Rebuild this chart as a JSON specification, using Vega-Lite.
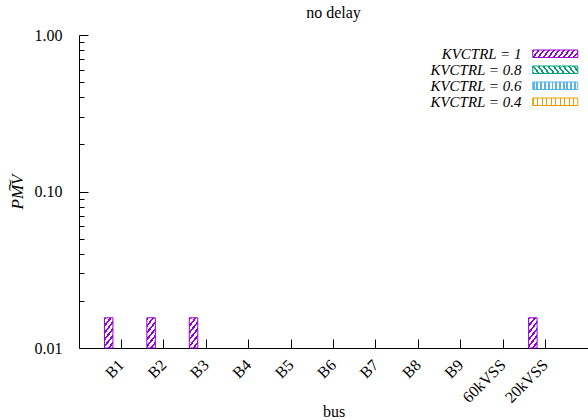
{
  "$schema": "https://vega.github.io/schema/vega-lite/v6.json",
  "width": 509,
  "height": 313,
  "autosize": "none",
  "padding": {"left": 79, "top": 35, "right": 0, "bottom": 72},
  "background": "white",
  "config": {
    "font": "Liberation Serif",
    "view": {"stroke": null},
    "axis": {"domainColor": "black", "tickColor": "black", "labelColor": "black", "titleColor": "black", "grid": false, "labelFont": "Liberation Serif", "titleFont": "Liberation Serif", "titleFontWeight": "normal"}
  },
  "title": {"text": "no delay", "fontSize": 16, "fontWeight": "normal", "font": "Liberation Serif", "color": "black", "offset": 6},
  "params": [
    {"name": "sP", "expr": "[{offset:0,color:'#9400d3'},{offset:0.04,color:'#9400d3'},{offset:0.04,color:'#fff'},{offset:0.1,color:'#fff'},{offset:0.1,color:'#9400d3'},{offset:0.14,color:'#9400d3'},{offset:0.14,color:'#fff'},{offset:0.2,color:'#fff'},{offset:0.2,color:'#9400d3'},{offset:0.24,color:'#9400d3'},{offset:0.24,color:'#fff'},{offset:0.3,color:'#fff'},{offset:0.3,color:'#9400d3'},{offset:0.34,color:'#9400d3'},{offset:0.34,color:'#fff'},{offset:0.4,color:'#fff'},{offset:0.4,color:'#9400d3'},{offset:0.44,color:'#9400d3'},{offset:0.44,color:'#fff'},{offset:0.5,color:'#fff'},{offset:0.5,color:'#9400d3'},{offset:0.54,color:'#9400d3'},{offset:0.54,color:'#fff'},{offset:0.6,color:'#fff'},{offset:0.6,color:'#9400d3'},{offset:0.64,color:'#9400d3'},{offset:0.64,color:'#fff'},{offset:0.7,color:'#fff'},{offset:0.7,color:'#9400d3'},{offset:0.74,color:'#9400d3'},{offset:0.74,color:'#fff'},{offset:0.8,color:'#fff'},{offset:0.8,color:'#9400d3'},{offset:0.84,color:'#9400d3'},{offset:0.84,color:'#fff'},{offset:0.9,color:'#fff'},{offset:0.9,color:'#9400d3'},{offset:0.94,color:'#9400d3'},{offset:0.94,color:'#fff'},{offset:1,color:'#fff'}]"},
    {"name": "sG", "expr": "[{offset:0,color:'#009e73'},{offset:0.04,color:'#009e73'},{offset:0.04,color:'#fff'},{offset:0.1,color:'#fff'},{offset:0.1,color:'#009e73'},{offset:0.14,color:'#009e73'},{offset:0.14,color:'#fff'},{offset:0.2,color:'#fff'},{offset:0.2,color:'#009e73'},{offset:0.24,color:'#009e73'},{offset:0.24,color:'#fff'},{offset:0.3,color:'#fff'},{offset:0.3,color:'#009e73'},{offset:0.34,color:'#009e73'},{offset:0.34,color:'#fff'},{offset:0.4,color:'#fff'},{offset:0.4,color:'#009e73'},{offset:0.44,color:'#009e73'},{offset:0.44,color:'#fff'},{offset:0.5,color:'#fff'},{offset:0.5,color:'#009e73'},{offset:0.54,color:'#009e73'},{offset:0.54,color:'#fff'},{offset:0.6,color:'#fff'},{offset:0.6,color:'#009e73'},{offset:0.64,color:'#009e73'},{offset:0.64,color:'#fff'},{offset:0.7,color:'#fff'},{offset:0.7,color:'#009e73'},{offset:0.74,color:'#009e73'},{offset:0.74,color:'#fff'},{offset:0.8,color:'#fff'},{offset:0.8,color:'#009e73'},{offset:0.84,color:'#009e73'},{offset:0.84,color:'#fff'},{offset:0.9,color:'#fff'},{offset:0.9,color:'#009e73'},{offset:0.94,color:'#009e73'},{offset:0.94,color:'#fff'},{offset:1,color:'#fff'}]"},
    {"name": "sB", "expr": "[{offset:0,color:'#56b4e9'},{offset:0.0417,color:'#56b4e9'},{offset:0.0417,color:'#fff'},{offset:0.0833,color:'#fff'},{offset:0.0833,color:'#56b4e9'},{offset:0.125,color:'#56b4e9'},{offset:0.125,color:'#fff'},{offset:0.1667,color:'#fff'},{offset:0.1667,color:'#56b4e9'},{offset:0.2083,color:'#56b4e9'},{offset:0.2083,color:'#fff'},{offset:0.25,color:'#fff'},{offset:0.25,color:'#56b4e9'},{offset:0.2917,color:'#56b4e9'},{offset:0.2917,color:'#fff'},{offset:0.3333,color:'#fff'},{offset:0.3333,color:'#56b4e9'},{offset:0.375,color:'#56b4e9'},{offset:0.375,color:'#fff'},{offset:0.4167,color:'#fff'},{offset:0.4167,color:'#56b4e9'},{offset:0.4583,color:'#56b4e9'},{offset:0.4583,color:'#fff'},{offset:0.5,color:'#fff'},{offset:0.5,color:'#56b4e9'},{offset:0.5417,color:'#56b4e9'},{offset:0.5417,color:'#fff'},{offset:0.5833,color:'#fff'},{offset:0.5833,color:'#56b4e9'},{offset:0.625,color:'#56b4e9'},{offset:0.625,color:'#fff'},{offset:0.6667,color:'#fff'},{offset:0.6667,color:'#56b4e9'},{offset:0.7083,color:'#56b4e9'},{offset:0.7083,color:'#fff'},{offset:0.75,color:'#fff'},{offset:0.75,color:'#56b4e9'},{offset:0.7917,color:'#56b4e9'},{offset:0.7917,color:'#fff'},{offset:0.8333,color:'#fff'},{offset:0.8333,color:'#56b4e9'},{offset:0.875,color:'#56b4e9'},{offset:0.875,color:'#fff'},{offset:0.9167,color:'#fff'},{offset:0.9167,color:'#56b4e9'},{offset:0.9583,color:'#56b4e9'},{offset:0.9583,color:'#fff'},{offset:1,color:'#fff'}]"},
    {"name": "sO", "expr": "[{offset:0,color:'#e69f00'},{offset:0.025,color:'#e69f00'},{offset:0.025,color:'#fff'},{offset:0.1,color:'#fff'},{offset:0.1,color:'#e69f00'},{offset:0.125,color:'#e69f00'},{offset:0.125,color:'#fff'},{offset:0.2,color:'#fff'},{offset:0.2,color:'#e69f00'},{offset:0.225,color:'#e69f00'},{offset:0.225,color:'#fff'},{offset:0.3,color:'#fff'},{offset:0.3,color:'#e69f00'},{offset:0.325,color:'#e69f00'},{offset:0.325,color:'#fff'},{offset:0.4,color:'#fff'},{offset:0.4,color:'#e69f00'},{offset:0.425,color:'#e69f00'},{offset:0.425,color:'#fff'},{offset:0.5,color:'#fff'},{offset:0.5,color:'#e69f00'},{offset:0.525,color:'#e69f00'},{offset:0.525,color:'#fff'},{offset:0.6,color:'#fff'},{offset:0.6,color:'#e69f00'},{offset:0.625,color:'#e69f00'},{offset:0.625,color:'#fff'},{offset:0.7,color:'#fff'},{offset:0.7,color:'#e69f00'},{offset:0.725,color:'#e69f00'},{offset:0.725,color:'#fff'},{offset:0.8,color:'#fff'},{offset:0.8,color:'#e69f00'},{offset:0.825,color:'#e69f00'},{offset:0.825,color:'#fff'},{offset:0.9,color:'#fff'},{offset:0.9,color:'#e69f00'},{offset:0.925,color:'#e69f00'},{offset:0.925,color:'#fff'},{offset:1,color:'#fff'}]"},
    {"name": "gP", "expr": "{id:'legP',gradient:'linear',x1:0,y1:0,x2:1.11,y2:0.142,stops:sP}"},
    {"name": "gG", "expr": "{id:'legG',gradient:'linear',x1:0,y1:1,x2:1.11,y2:0.858,stops:sG}"},
    {"name": "gB", "expr": "{id:'legB',gradient:'linear',x1:0,y1:0,x2:1,y2:0,stops:sB}"},
    {"name": "gO", "expr": "{id:'legO',gradient:'linear',x1:0,y1:0,x2:1,y2:0,stops:sO}"}
  ],
  "layer": [
    {
      "data": {
        "values": [
          {"bus": "B1", "k": "1", "p": 0.0156},
          {"bus": "B2", "k": "1", "p": 0.0156},
          {"bus": "B3", "k": "1", "p": 0.0156},
          {"bus": "20kVSS", "k": "1", "p": 0.0156}
        ]
      },
      "mark": {
        "type": "bar",
        "stroke": "#9400d3",
        "strokeWidth": 1,
        "fill": {
          "id": "barP",
          "gradient": "linear", "x1": 0, "y1": 0, "x2": 0.428, "y2": 1.203,
          "stops": [
            {"offset": 0, "color": "#9400d3"}, {"offset": 0.0667, "color": "#9400d3"}, {"offset": 0.0667, "color": "#ffffff"}, {"offset": 0.1667, "color": "#ffffff"},
            {"offset": 0.1667, "color": "#9400d3"}, {"offset": 0.2333, "color": "#9400d3"}, {"offset": 0.2333, "color": "#ffffff"}, {"offset": 0.3333, "color": "#ffffff"},
            {"offset": 0.3333, "color": "#9400d3"}, {"offset": 0.4, "color": "#9400d3"}, {"offset": 0.4, "color": "#ffffff"}, {"offset": 0.5, "color": "#ffffff"},
            {"offset": 0.5, "color": "#9400d3"}, {"offset": 0.5667, "color": "#9400d3"}, {"offset": 0.5667, "color": "#ffffff"}, {"offset": 0.6667, "color": "#ffffff"},
            {"offset": 0.6667, "color": "#9400d3"}, {"offset": 0.7333, "color": "#9400d3"}, {"offset": 0.7333, "color": "#ffffff"}, {"offset": 0.8333, "color": "#ffffff"},
            {"offset": 0.8333, "color": "#9400d3"}, {"offset": 0.9, "color": "#9400d3"}, {"offset": 0.9, "color": "#ffffff"}, {"offset": 1, "color": "#ffffff"}
          ]
        }
      },
      "encoding": {
        "x": {
          "field": "bus", "type": "nominal",
          "scale": {"domain": ["B1", "B2", "B3", "B4", "B5", "B6", "B7", "B8", "B9", "60kVSS", "20kVSS"], "paddingInner": 0, "paddingOuter": 0.5},
          "axis": {"title": "bus", "titleFontSize": 16, "titlePadding": -2, "labelAngle": -45, "labelAlign": "right", "labelBaseline": "middle", "labelFontSize": 16, "tickSize": -9, "labelPadding": 23}
        },
        "xOffset": {
          "field": "k", "type": "nominal",
          "scale": {"domain": ["1", "0.8", "0.6", "0.4"], "paddingInner": 0, "paddingOuter": 0.5}
        },
        "y": {
          "field": "p", "type": "quantitative",
          "scale": {"type": "log", "domain": [0.01, 1], "nice": false},
          "axis": {"values": [0.01, 0.1, 1], "format": ".2f", "tickSize": -9, "labelPadding": 26, "labelFontSize": 16, "title": "PM͠V", "titleFontSize": 17, "titleFontStyle": "italic", "titlePadding": 8}
        },
        "y2": {"datum": 0.01}
      }
    },
    {
      "data": {
        "values": [
          {"bus": "B1", "k": "1", "p": 0.0156}
        ]
      },
      "transform": [{"filter": "datum.p > 1"}],
      "mark": {"type": "point", "opacity": 0},
      "encoding": {
        "y": {
          "field": "p", "type": "quantitative",
          "scale": {"type": "log", "domain": [0.01, 1], "nice": false},
          "axis": {"orient": "left", "values": [0.02, 0.03, 0.04, 0.05, 0.06, 0.07, 0.08, 0.09, 0.2, 0.3, 0.4, 0.5, 0.6, 0.7, 0.8, 0.9], "tickSize": -5, "labels": false, "domain": false, "title": null}
        }
      }
    },
    {
      "data": {"values": []},
      "mark": {"type": "bar", "strokeWidth": 1},
      "encoding": {
        "fill": {
          "field": "k", "type": "nominal",
          "scale": {"domain": ["1", "0.8", "0.6", "0.4"], "range": [{"expr": "gP"}, {"expr": "gG"}, {"expr": "gB"}, {"expr": "gO"}]},
          "legend": {
            "orient": "none", "legendX": 468.75, "legendY": 11.25, "title": null, "padding": 0, "rowPadding": -4,
            "symbolType": "M-6,-1H6V1H-6Z", "symbolSize": 56.25, "symbolStrokeWidth": 1, "symbolOpacity": 1,
            "labelAlign": "right", "labelOffset": -41.25, "labelFontSize": 15, "labelFontStyle": "italic", "labelFont": "Liberation Serif", "labelColor": "black", "labelLimit": 300,
            "labelExpr": "'KVCTRL = ' + datum.label"
          }
        },
        "stroke": {
          "field": "k", "type": "nominal",
          "scale": {"domain": ["1", "0.8", "0.6", "0.4"], "range": ["#9400d3", "#009e73", "#56b4e9", "#e69f00"]},
          "legend": {
            "orient": "none", "legendX": 468.75, "legendY": 11.25, "title": null, "padding": 0, "rowPadding": -4,
            "symbolType": "M-6,-1H6V1H-6Z", "symbolSize": 56.25, "symbolStrokeWidth": 1, "symbolOpacity": 1,
            "labelAlign": "right", "labelOffset": -41.25, "labelFontSize": 15, "labelFontStyle": "italic", "labelFont": "Liberation Serif", "labelColor": "black", "labelLimit": 300,
            "labelExpr": "'KVCTRL = ' + datum.label"
          }
        }
      }
    }
  ],
  "resolve": {"axis": {"y": "independent"}}
}
